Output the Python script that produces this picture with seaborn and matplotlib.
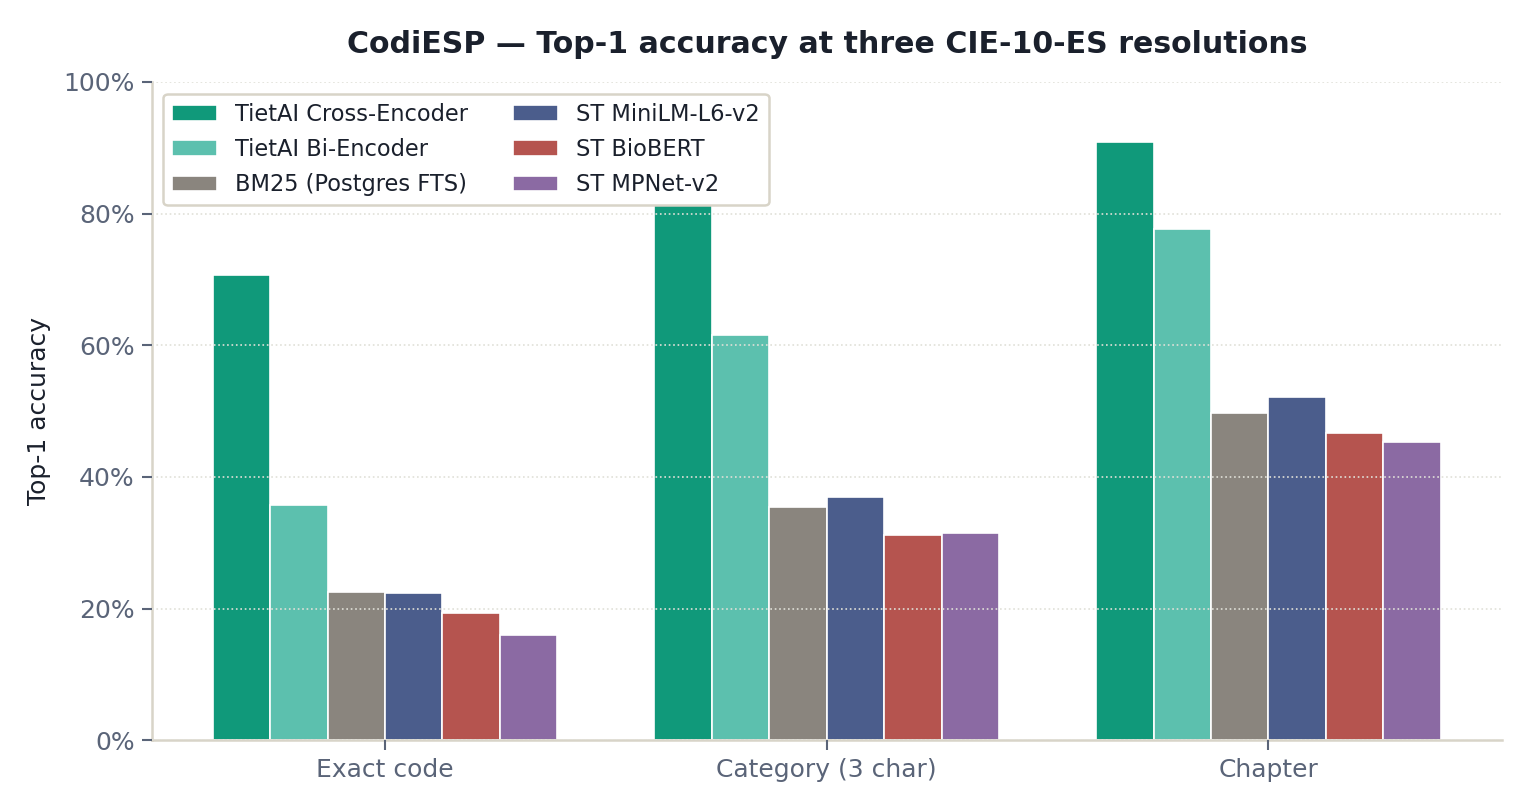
import matplotlib
matplotlib.use("Agg")
import matplotlib.pyplot as plt
import seaborn as sns
import pandas as pd
from matplotlib.ticker import PercentFormatter

# data
resolutions = ["Exact code", "Category (3 char)", "Chapter"]
models = ["TietAI Cross-Encoder", "TietAI Bi-Encoder", "BM25 (Postgres FTS)",
          "ST MiniLM-L6-v2", "ST BioBERT", "ST MPNet-v2"]
cross_encoder = [70.7, 84.0, 90.8]
bi_encoder = [35.8, 61.6, 77.7]
bm25 = [22.5, 35.4, 49.7]
minilm = [22.4, 36.9, 52.1]
biobert = [19.3, 31.2, 46.6]
mpnet = [16.0, 31.5, 45.3]
colors = ["#10997a", "#5cc0ae", "#8a857e", "#4b5d8c", "#b5544f", "#8b6aa3"]

series = [cross_encoder, bi_encoder, bm25, minilm, biobert, mpnet]
rows = []
for m, vals in zip(models, series):
    for r, v in zip(resolutions, vals):
        rows.append({"resolution": r, "model": m, "acc": v})
df = pd.DataFrame(rows)

sns.set_style("white")
plt.rcParams["font.family"] = ["DejaVu Sans"]

fig, ax = plt.subplots(figsize=(10.2, 5.4), dpi=150)
fig.subplots_adjust(left=0.0995, right=0.982, top=0.899, bottom=0.086)

sns.barplot(data=df, x="resolution", y="acc", hue="model", order=resolutions,
            hue_order=models, palette=colors, width=0.78, edgecolor="white",
            linewidth=0.8, saturation=1, ax=ax)

ax.set_xlim(-0.527, 2.53)
ax.set_ylim(0, 100)
ax.yaxis.set_major_formatter(PercentFormatter(100, decimals=0))
ax.set_yticks([0, 20, 40, 60, 80, 100])

ax.grid(axis="y", linestyle=":", color="#e0e0d8", linewidth=0.8)
ax.set_axisbelow(False)

for side in ["top", "right"]:
    ax.spines[side].set_visible(False)
for side in ["left", "bottom"]:
    ax.spines[side].set_color("#d8d4c8")
    ax.spines[side].set_linewidth(1.2)

ax.tick_params(axis="both", colors="#5a6478", labelsize=12, length=5,
               width=1, left=True, bottom=True)
ax.set_xlabel("")
ax.set_ylabel("Top-1 accuracy", fontsize=12, color="#1a202c", labelpad=6)
ax.set_title("CodiESP — Top-1 accuracy at three CIE-10-ES resolutions",
             fontsize=14.4, fontweight="bold", color="#1a202c", pad=14)

leg = ax.legend(loc="upper left", ncol=2, fontsize=10.8, frameon=True,
                fancybox=True, framealpha=1, borderpad=0.4,
                columnspacing=2.0, handlelength=2.0, labelspacing=0.55,
                borderaxespad=0, bbox_to_anchor=(0.008, 0.982))
leg.get_frame().set_edgecolor("#d8d4c8")
leg.get_frame().set_linewidth(1.2)
for t in leg.get_texts():
    t.set_color("#1a202c")
leg.set_zorder(10)

fig.savefig("out.png", dpi=150)
